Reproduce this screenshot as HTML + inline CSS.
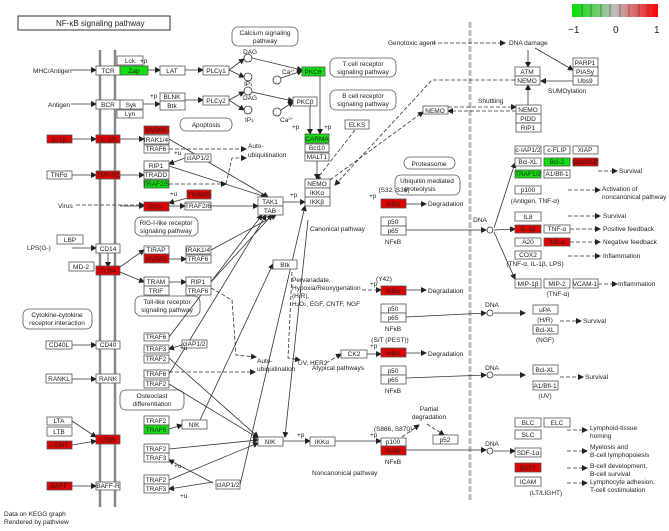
<!DOCTYPE html>
<html><head><meta charset="utf-8"><style>
html,body{margin:0;padding:0;background:#fff}
svg{display:block}
text{font-family:"Liberation Sans",sans-serif;font-size:6.5px;fill:#222}
.b rect{fill:#fff;stroke:#555;stroke-width:0.8}
.r{fill:#e00000!important}
.g{fill:#10e010!important}
.l{stroke:#333;stroke-width:0.8;fill:none}
.d{stroke:#333;stroke-width:0.8;fill:none;stroke-dasharray:4,2}
.rr{fill:#fff;stroke:#555;stroke-width:0.8}
</style></head><body>
<svg width="669" height="531" viewBox="0 0 669 531" xmlns="http://www.w3.org/2000/svg">
<defs><marker id="a" markerWidth="6" markerHeight="6" refX="5" refY="3" orient="auto" markerUnits="userSpaceOnUse"><path d="M0,0L6,3L0,6z" fill="#222"/></marker></defs>
<rect x="18" y="16" width="152" height="14" fill="#fff" stroke="#333"/>
<text x="56" y="26" style="font-size:8px">NF-κB  signaling pathway</text>
<defs><linearGradient id="lg"><stop offset="0" stop-color="#00e000"/><stop offset="0.5" stop-color="#bebebe"/><stop offset="1" stop-color="#ff0000"/></linearGradient></defs>
<rect x="572" y="4" width="86" height="13" fill="url(#lg)"/>
<g stroke="#333" stroke-width="0.5"><line x1="582" y1="4" x2="582" y2="17"/><line x1="591" y1="4" x2="591" y2="17"/><line x1="601" y1="4" x2="601" y2="17"/><line x1="610" y1="4" x2="610" y2="17"/><line x1="620" y1="4" x2="620" y2="17"/><line x1="629" y1="4" x2="629" y2="17"/><line x1="639" y1="4" x2="639" y2="17"/><line x1="648" y1="4" x2="648" y2="17"/></g>
<text x="568" y="33" style="font-size:10px">−1</text><text x="613" y="33" style="font-size:10px">0</text><text x="654" y="33" style="font-size:10px">1</text>
<line x1="100" y1="50" x2="100" y2="507" stroke="#888" stroke-width="2.5"/>
<line x1="115" y1="50" x2="115" y2="507" stroke="#888" stroke-width="2.5"/>
<line x1="470" y1="22" x2="470" y2="502" stroke="#bbb" stroke-width="3" stroke-dasharray="6,2"/>
<g class="rr">
<rect x="232" y="27" width="66" height="19" rx="6"/><rect x="330" y="58" width="66" height="19" rx="6"/><rect x="330" y="90" width="66" height="20" rx="6"/>
<rect x="180" y="118" width="52" height="13" rx="6"/><rect x="135" y="217" width="63" height="19" rx="6"/><rect x="404" y="157" width="51" height="12" rx="6"/>
<rect x="395" y="175" width="65" height="20" rx="6"/><rect x="135" y="296" width="65" height="20" rx="6"/><rect x="23" y="309" width="69" height="20" rx="6"/><rect x="120" y="390" width="64" height="20" rx="6"/>
</g>
<g text-anchor="middle">
<text x="265" y="35">Calcium signaling</text><text x="265" y="43">pathway</text>
<text x="363" y="66">T cell receptor</text><text x="363" y="74">signaling pathway</text>
<text x="363" y="98">B cell receptor</text><text x="363" y="106">signaling pathway</text>
<text x="206" y="127">Apoptosis</text><text x="166" y="225">RIG-I-like receptor</text><text x="166" y="233">signaling pathway</text>
<text x="429" y="166">Proteasome</text><text x="427" y="183">Ubiquitin mediated</text><text x="420" y="191">proteolysis</text>
<text x="167" y="304">Toll-like receptor</text><text x="167" y="312">signaling pathway</text>
<text x="57" y="317">Cytokine-cytokine</text><text x="57" y="325">receptor interaction</text>
<text x="152" y="398">Osteoclast</text><text x="152" y="406">differentiation</text>
</g>
<g class="l" marker-end="url(#a)">
<line x1="71" y1="70" x2="96" y2="70"/><line x1="148" y1="70" x2="160" y2="70"/><line x1="185" y1="70" x2="203" y2="70"/>
<line x1="229" y1="70" x2="244" y2="59"/><line x1="229" y1="70" x2="244" y2="77"/><line x1="252" y1="58" x2="302" y2="70"/><line x1="281" y1="78" x2="302" y2="71"/>
<line x1="71" y1="104" x2="96" y2="104"/><line x1="143" y1="104" x2="160" y2="104"/><line x1="185" y1="100" x2="203" y2="100"/>
<line x1="229" y1="100" x2="244" y2="92"/><line x1="229" y1="100" x2="244" y2="110"/><line x1="252" y1="92" x2="293" y2="101"/><line x1="281" y1="110" x2="293" y2="102"/>
<line x1="320" y1="75" x2="320" y2="134"/><line x1="310" y1="106" x2="310" y2="134"/>
<line x1="317" y1="161" x2="317" y2="179"/>
<line x1="72" y1="139" x2="96" y2="139"/><line x1="120" y1="139" x2="144" y2="139"/>
<line x1="72" y1="175" x2="96" y2="175"/><line x1="120" y1="175" x2="144" y2="175"/>
<line x1="120" y1="206" x2="144" y2="206"/><line x1="169" y1="206" x2="185" y2="206"/><line x1="211" y1="206" x2="258" y2="206"/>
<line x1="283" y1="202" x2="305" y2="202"/><line x1="406" y1="204" x2="426" y2="204"/>
<line x1="406" y1="230" x2="486" y2="230"/><line x1="494" y1="228" x2="515" y2="163"/><line x1="494" y1="230" x2="515" y2="229"/><line x1="494" y1="232" x2="515" y2="279"/>
<line x1="169" y1="139" x2="268" y2="197"/><line x1="169" y1="166" x2="266" y2="197"/>
<line x1="72" y1="248" x2="96" y2="248"/>
<line x1="108" y1="253" x2="108" y2="267"/><line x1="120" y1="267" x2="144" y2="250"/><line x1="120" y1="272" x2="144" y2="282"/>
<line x1="169" y1="259" x2="186" y2="259"/><line x1="169" y1="282" x2="186" y2="282"/>
<line x1="72" y1="345" x2="96" y2="345"/><line x1="72" y1="379" x2="96" y2="379"/><line x1="72" y1="421" x2="96" y2="437"/><line x1="72" y1="445" x2="96" y2="441"/><line x1="72" y1="486" x2="96" y2="486"/>
<line x1="169" y1="429" x2="182" y2="425"/><line x1="283" y1="441" x2="310" y2="441"/><line x1="335" y1="441" x2="381" y2="441"/>
<line x1="169" y1="358" x2="258" y2="437"/><line x1="169" y1="384" x2="258" y2="438"/><line x1="169" y1="449" x2="258" y2="440"/><line x1="169" y1="480" x2="258" y2="443"/>
<line x1="406" y1="450" x2="486" y2="450"/><line x1="494" y1="451" x2="515" y2="451"/>
<line x1="406" y1="317" x2="486" y2="313"/><line x1="494" y1="313" x2="525" y2="313"/><line x1="406" y1="378" x2="486" y2="375"/><line x1="494" y1="375" x2="525" y2="375"/>
<line x1="367" y1="354" x2="381" y2="354"/><line x1="406" y1="290" x2="426" y2="290"/><line x1="406" y1="353" x2="426" y2="353"/>
<line x1="598" y1="81" x2="541" y2="81"/><line x1="528" y1="105" x2="528" y2="85"/><line x1="528" y1="50" x2="528" y2="67"/><line x1="535" y1="48" x2="573" y2="70"/>
<line x1="213" y1="482" x2="169" y2="489"/><line x1="213" y1="483" x2="169" y2="460"/><line x1="185" y1="158" x2="169" y2="164"/><line x1="185" y1="344" x2="169" y2="349"/><line x1="195" y1="196" x2="169" y2="203"/>
<line x1="308" y1="220" x2="285" y2="437" marker-end=""/><line x1="200" y1="420" x2="273" y2="264"/>
<line x1="169" y1="337" x2="262" y2="215"/><line x1="169" y1="374" x2="266" y2="215"/><line x1="211" y1="282" x2="272" y2="215"/><line x1="211" y1="250" x2="276" y2="215"/>
<line x1="240" y1="485" x2="305" y2="206"/>
</g>
<g class="d" marker-end="url(#a)">
<line x1="76" y1="205" x2="144" y2="205"/><line x1="169" y1="149" x2="246" y2="149"/><line x1="169" y1="184" x2="226" y2="184" marker-end=""/><path d="M226,184 L232,158 L246,158"/>
<line x1="432" y1="43" x2="505" y2="43"/><path d="M515,80 L432,80 L335,185"/><line x1="355" y1="130" x2="316" y2="180" marker-end=""/>
<line x1="448" y1="107" x2="516" y2="107"/><line x1="516" y1="111" x2="448" y2="111"/><line x1="330" y1="180" x2="423" y2="112"/>
<line x1="598" y1="171" x2="617" y2="171"/><line x1="568" y1="190" x2="600" y2="190"/><line x1="568" y1="216" x2="600" y2="216"/><line x1="570" y1="229" x2="600" y2="229"/><line x1="570" y1="242" x2="600" y2="242"/><line x1="568" y1="256" x2="600" y2="256"/><line x1="598" y1="284" x2="617" y2="284"/>
<line x1="560" y1="321" x2="581" y2="321"/><line x1="560" y1="377" x2="583" y2="377"/>
<line x1="567" y1="430" x2="587" y2="430"/><line x1="567" y1="451" x2="587" y2="451"/><line x1="567" y1="468" x2="587" y2="468"/><line x1="567" y1="483" x2="587" y2="483"/>
<path d="M169,372 L255,372"/><path d="M211,288 L232,300 L236,355 L256,357"/><path d="M292,272 L288,358 L300,360"/><line x1="326" y1="363" x2="341" y2="354"/>
<line x1="402" y1="437" x2="419" y2="425"/><line x1="427" y1="424" x2="444" y2="435"/><path d="M362,290 L381,290"/>
</g>
<g fill="#fff" stroke="#333" stroke-width="0.8"><circle cx="248" cy="58" r="4"/><circle cx="248" cy="77" r="4"/><circle cx="277" cy="80" r="4"/><circle cx="248" cy="91" r="4"/><circle cx="248" cy="110" r="4"/><circle cx="277" cy="112" r="4"/>
<circle cx="490" cy="230" r="3"/><circle cx="490" cy="313" r="3"/><circle cx="490" cy="375" r="3"/><circle cx="490" cy="451" r="3"/></g>
<g class="b">
<rect x="96" y="66" width="24" height="9"/><rect x="120" y="66" width="28" height="9" class="g"/><rect x="117" y="56" width="26" height="9"/>
<rect x="160" y="66" width="25" height="9"/><rect x="203" y="66" width="26" height="9"/><rect x="302" y="67" width="23" height="9" class="g"/>
<rect x="96" y="100" width="24" height="9"/><rect x="120" y="100" width="23" height="9"/><rect x="117" y="110" width="26" height="8"/>
<rect x="160" y="93" width="25" height="8"/><rect x="160" y="101" width="25" height="9"/><rect x="203" y="96" width="26" height="9"/><rect x="293" y="97" width="24" height="9"/>
<rect x="47" y="135" width="25" height="8" class="r"/><rect x="96" y="135" width="24" height="8" class="r"/>
<rect x="144" y="126" width="25" height="8" class="r"/><rect x="144" y="135" width="25" height="9"/><rect x="144" y="145" width="25" height="8"/>
<rect x="185" y="154" width="26" height="8"/><rect x="144" y="161" width="25" height="9"/><rect x="144" y="171" width="25" height="8"/><rect x="144" y="180" width="25" height="8" class="g"/>
<rect x="47" y="171" width="25" height="8"/><rect x="96" y="171" width="24" height="8" class="r"/>
<rect x="144" y="202" width="25" height="9" class="r"/><rect x="187" y="190" width="24" height="9" class="r"/><rect x="185" y="202" width="26" height="8"/>
<rect x="258" y="197" width="25" height="9"/><rect x="258" y="206" width="25" height="9"/>
<rect x="305" y="134" width="24" height="9" class="g"/><rect x="305" y="144" width="24" height="8"/><rect x="305" y="153" width="24" height="8"/>
<rect x="305" y="179" width="25" height="9"/><rect x="305" y="188" width="25" height="9"/><rect x="305" y="197" width="25" height="9"/>
<rect x="345" y="120" width="24" height="9"/><rect x="381" y="199" width="25" height="9" class="r"/><rect x="381" y="217" width="25" height="9"/><rect x="381" y="226" width="25" height="9"/>
<rect x="515" y="67" width="25" height="9"/><rect x="515" y="76" width="25" height="9"/><rect x="573" y="58" width="25" height="9"/><rect x="573" y="67" width="25" height="9"/><rect x="573" y="76" width="25" height="9"/>
<rect x="423" y="106" width="25" height="8"/><rect x="516" y="105" width="25" height="9"/><rect x="516" y="114" width="25" height="9"/><rect x="516" y="123" width="25" height="9"/>
<rect x="515" y="146" width="26" height="8"/><rect x="544" y="146" width="26" height="8"/><rect x="573" y="146" width="25" height="8"/>
<rect x="515" y="158" width="26" height="8"/><rect x="544" y="158" width="26" height="8" class="g"/><rect x="573" y="158" width="25" height="8" class="r"/>
<rect x="515" y="170" width="26" height="8" class="g"/><rect x="544" y="170" width="26" height="8"/><rect x="515" y="186" width="26" height="8"/>
<rect x="515" y="212" width="26" height="9"/><rect x="515" y="225" width="26" height="8" class="r"/><rect x="544" y="225" width="26" height="8"/>
<rect x="515" y="238" width="26" height="8"/><rect x="544" y="238" width="26" height="8" class="r"/><rect x="515" y="251" width="26" height="8"/>
<rect x="515" y="279" width="26" height="9"/><rect x="544" y="279" width="26" height="9"/><rect x="573" y="279" width="25" height="9"/>
<rect x="381" y="286" width="25" height="9" class="r"/><rect x="381" y="304" width="25" height="9"/><rect x="381" y="313" width="25" height="9"/>
<rect x="533" y="305" width="25" height="9"/><rect x="533" y="325" width="25" height="9"/>
<rect x="341" y="350" width="26" height="8"/><rect x="381" y="348" width="25" height="9" class="r"/><rect x="381" y="366" width="25" height="9"/><rect x="381" y="375" width="25" height="9"/>
<rect x="533" y="365" width="25" height="9"/><rect x="533" y="381" width="25" height="9"/>
<rect x="381" y="438" width="25" height="8"/><rect x="381" y="446" width="25" height="9" class="r"/><rect x="433" y="435" width="25" height="9"/>
<rect x="515" y="418" width="26" height="9"/><rect x="544" y="418" width="26" height="9"/><rect x="515" y="430" width="26" height="9"/><rect x="515" y="448" width="26" height="9"/><rect x="515" y="463" width="26" height="9" class="r"/><rect x="515" y="477" width="26" height="9"/>
<rect x="310" y="437" width="25" height="9"/><rect x="258" y="437" width="25" height="9"/><rect x="273" y="260" width="24" height="9"/>
<rect x="57" y="235" width="26" height="9"/><rect x="96" y="244" width="24" height="9"/><rect x="69" y="262" width="25" height="9"/><rect x="96" y="266" width="24" height="9" class="r"/>
<rect x="144" y="246" width="25" height="8"/><rect x="144" y="254" width="25" height="9" class="r"/><rect x="186" y="246" width="25" height="8"/><rect x="186" y="255" width="25" height="8"/>
<rect x="144" y="277" width="25" height="9"/><rect x="144" y="286" width="25" height="9"/><rect x="186" y="277" width="25" height="9"/><rect x="186" y="286" width="25" height="9"/>
<rect x="46" y="341" width="26" height="8"/><rect x="96" y="341" width="24" height="8"/><rect x="144" y="333" width="25" height="8"/><rect x="144" y="345" width="25" height="8"/><rect x="144" y="355" width="25" height="8"/><rect x="182" y="340" width="25" height="8"/>
<rect x="46" y="374" width="26" height="9"/><rect x="96" y="374" width="24" height="9"/><rect x="144" y="370" width="25" height="8"/><rect x="144" y="380" width="25" height="8"/>
<rect x="47" y="417" width="25" height="8"/><rect x="47" y="427" width="25" height="9"/><rect x="47" y="441" width="25" height="8" class="r"/><rect x="96" y="435" width="24" height="9" class="r"/>
<rect x="144" y="416" width="25" height="9"/><rect x="144" y="425" width="25" height="9" class="g"/><rect x="182" y="420" width="25" height="9"/>
<rect x="144" y="444" width="25" height="9"/><rect x="144" y="453" width="25" height="9"/>
<rect x="47" y="482" width="25" height="8" class="r"/><rect x="96" y="482" width="24" height="8"/><rect x="144" y="475" width="25" height="9"/><rect x="144" y="484" width="25" height="9"/><rect x="216" y="480" width="24" height="9"/>
</g>
<g text-anchor="middle">
<text x="108" y="73">TCR</text><text x="134" y="73">Zap</text><text x="130" y="63">Lck</text><text x="172" y="73">LAT</text><text x="216" y="73">PLCγ1</text><text x="313" y="74">PKCθ</text>
<text x="108" y="107">BCR</text><text x="131" y="107">Syk</text><text x="130" y="116">Lyn</text><text x="172" y="99">BLNK</text><text x="172" y="108">Btk</text><text x="216" y="103">PLCγ2</text><text x="305" y="104">PKCβ</text>
<text x="59" y="142">IL-1β</text><text x="108" y="142">IL-1R</text><text x="156" y="132">MyD88</text><text x="156" y="142">IRAK1/4</text><text x="156" y="151">TRAF6</text>
<text x="198" y="160">cIAP1/2</text><text x="156" y="168">RIP1</text><text x="156" y="177">TRADD</text><text x="156" y="186">TRAF2/5</text>
<text x="59" y="177">TNFα</text><text x="108" y="177">TNF-R1</text><text x="156" y="209">RIG-I</text><text x="199" y="197">TRIM25</text><text x="198" y="208">TRAF2/6</text>
<text x="270" y="204">TAK1</text><text x="270" y="213">TAB</text><text x="317" y="141">CARMA</text><text x="317" y="150">Bcl10</text><text x="317" y="159">MALT1</text>
<text x="317" y="186">NEMO</text><text x="317" y="195">IKKα</text><text x="317" y="204">IKKβ</text><text x="357" y="127">ELKS</text>
<text x="393" y="206">IκBα</text><text x="393" y="224">p50</text><text x="393" y="233">p65</text><text x="393" y="244">NFκB</text>
<text x="527" y="74">ATM</text><text x="527" y="83">NEMO</text><text x="585" y="65">PARP1</text><text x="585" y="74">PIASy</text><text x="585" y="83">Ubs9</text>
<text x="435" y="113">NEMO</text><text x="528" y="112">NEMO</text><text x="528" y="121">PIDD</text><text x="528" y="130">RIP1</text>
<text x="528" y="152">c-IAP1/2</text><text x="557" y="152">c-FLIP</text><text x="585" y="152">XIAP</text><text x="528" y="164">Bcl-XL</text><text x="557" y="164">Bcl-2</text><text x="585" y="164">gadd45β</text>
<text x="528" y="176">TRAF1/2</text><text x="557" y="176">A1/Bfl-1</text><text x="528" y="192">p100</text><text x="528" y="219">IL8</text><text x="528" y="231">IL-1β</text><text x="557" y="231">TNF-α</text>
<text x="528" y="244">A20</text><text x="557" y="244">IκB-α</text><text x="528" y="257">COX2</text><text x="528" y="286">MIP-1β</text><text x="557" y="286">MIP-2</text><text x="585" y="286">VCAM-1</text>
<text x="393" y="293">IκBα</text><text x="393" y="311">p50</text><text x="393" y="320">p65</text><text x="393" y="331">NFκB</text><text x="545" y="312">uPA</text><text x="545" y="332">Bcl-XL</text>
<text x="354" y="356">CK2</text><text x="393" y="355">IκBα</text><text x="393" y="373">p50</text><text x="393" y="382">p65</text><text x="393" y="393">NFκB</text><text x="545" y="372">Bcl-XL</text><text x="545" y="388">A1/Bfl-1</text>
<text x="393" y="444">p100</text><text x="393" y="453">RelB</text><text x="393" y="464">NFκB</text><text x="445" y="442">p52</text>
<text x="528" y="425">BLC</text><text x="557" y="425">ELC</text><text x="528" y="437">SLC</text><text x="528" y="455">SDF-1α</text><text x="528" y="470">BAFF</text><text x="528" y="484">ICAM</text>
<text x="322" y="444">IKKα</text><text x="270" y="444">NIK</text><text x="285" y="267">Btk</text>
<text x="70" y="242">LBP</text><text x="108" y="251">CD14</text><text x="81" y="269">MD-2</text><text x="108" y="273">TLR4</text>
<text x="156" y="252">TIRAP</text><text x="156" y="261">MyD88</text><text x="198" y="252">IRAK1/4</text><text x="198" y="261">TRAF6</text>
<text x="156" y="284">TRAM</text><text x="156" y="293">TRIF</text><text x="198" y="284">RIP1</text><text x="198" y="293">TRAF6</text>
<text x="59" y="347">CD40L</text><text x="108" y="347">CD40</text><text x="156" y="339">TRAF6</text><text x="156" y="351">TRAF3</text><text x="156" y="361">TRAF2</text><text x="194" y="346">cIAP1/2</text>
<text x="59" y="381">RANKL</text><text x="108" y="381">RANK</text><text x="156" y="376">TRAF6</text><text x="156" y="386">TRAF2</text>
<text x="59" y="423">LTA</text><text x="59" y="434">LTB</text><text x="59" y="447">LIGHT</text><text x="108" y="442">LTβR</text>
<text x="156" y="423">TRAF2</text><text x="156" y="432">TRAF5</text><text x="194" y="427">NIK</text><text x="156" y="451">TRAF2</text><text x="156" y="460">TRAF3</text>
<text x="59" y="488">BAFF</text><text x="108" y="488">BAFF-R</text><text x="156" y="482">TRAF2</text><text x="156" y="491">TRAF3</text><text x="228" y="487">cIAP1/2</text>
<text x="394" y="192">(S32, S36)</text><text x="535" y="203">(Antigen, TNF-α)</text><text x="535" y="266">(TNF-α, IL-1β, LPS)</text><text x="558" y="296">(TNF-α)</text>
<text x="545" y="322">(H/R)</text><text x="545" y="342">(NGF)</text><text x="545" y="398">(UV)</text><text x="546" y="495">(LT/LIGHT)</text><text x="384" y="281">(Y42)</text><text x="390" y="342">(S/T (PEST))</text><text x="393" y="431">(S866, S870)</text>
<text x="429" y="411">Partial</text><text x="429" y="419">degradation</text><text x="480" y="222">DNA</text><text x="492" y="307">DNA</text><text x="492" y="370">DNA</text><text x="492" y="446">DNA</text>
</g>
<text x="33" y="73">MHC/Antigen</text><text x="48" y="107">Antigen</text><text x="58" y="208">Virus</text><text x="27" y="250">LPS(G-)</text>
<text x="248" y="148">Auto-</text><text x="248" y="157">ubiquitination</text><text x="257" y="363">Auto-</text><text x="257" y="371">ubiquitination</text>
<text x="243" y="54">DAG</text><text x="244" y="86">IP<tspan style="font-size:4px">3</tspan></text><text x="282" y="74">Ca<tspan style="font-size:4px" dy="-2">2+</tspan></text>
<text x="243" y="100">DAG</text><text x="245" y="122">IP<tspan style="font-size:4px">3</tspan></text><text x="280" y="122">Ca<tspan style="font-size:4px" dy="-2">2+</tspan></text>
<text x="140" y="63">+p</text><text x="150" y="98">+p</text><text x="292" y="129">+p</text><text x="324" y="129">+p</text><text x="174" y="155">+u</text><text x="170" y="196">+u</text><text x="290" y="197">+p</text><text x="369" y="198">+p</text>
<text x="310" y="231">Canonical pathway</text><text x="428" y="206">Degradation</text><text x="428" y="293">Degradation</text><text x="428" y="356">Degradation</text>
<text x="388" y="45">Genotoxic agent</text><text x="509" y="45">DNA damage</text><text x="548" y="93">SUMOylation</text><text x="478" y="103">Shuttling</text>
<text x="619" y="173">Survival</text><text x="602" y="191">Activation of</text><text x="602" y="199">noncanonical pathway</text><text x="603" y="218">Survival</text><text x="603" y="231">Positive feedback</text><text x="603" y="244">Negative feedback</text><text x="603" y="258">Inflammation</text><text x="618" y="286">Inflammation</text>
<text x="583" y="323">Survival</text><text x="585" y="379">Survival</text>
<text x="590" y="430">Lymphoid-tissue</text><text x="590" y="438">homing</text><text x="590" y="449">Myelosis and</text><text x="590" y="457">B-cell lymphopoiesis</text><text x="590" y="468">B-cell development,</text><text x="590" y="476">B-cell survival</text><text x="590" y="484">Lymphocyte adhesion,</text><text x="590" y="492">T-cell costimulation</text>
<text x="292" y="282">Pervanadate,</text><text x="292" y="290">Hypoxia/Reoxygenation</text><text x="292" y="298">(H/R),</text><text x="292" y="306">H<tspan style="font-size:4px">2</tspan>O<tspan style="font-size:4px">2</tspan>, EGF, CNTF, NGF</text>
<text x="298" y="365">UV, HER2</text><text x="312" y="370">Atypical pathways</text><text x="312" y="475">Noncanonical pathway</text><text x="370" y="286">+p</text><text x="370" y="348">+p</text><text x="370" y="437">+p</text><text x="297" y="437">+p</text>
<text x="180" y="350">+u</text><text x="174" y="468">+u</text><text x="180" y="498">+u</text>
<text x="4" y="516">Data on KEGG graph</text><text x="4" y="524">Rendered by pathview</text>
</svg>
</body></html>
